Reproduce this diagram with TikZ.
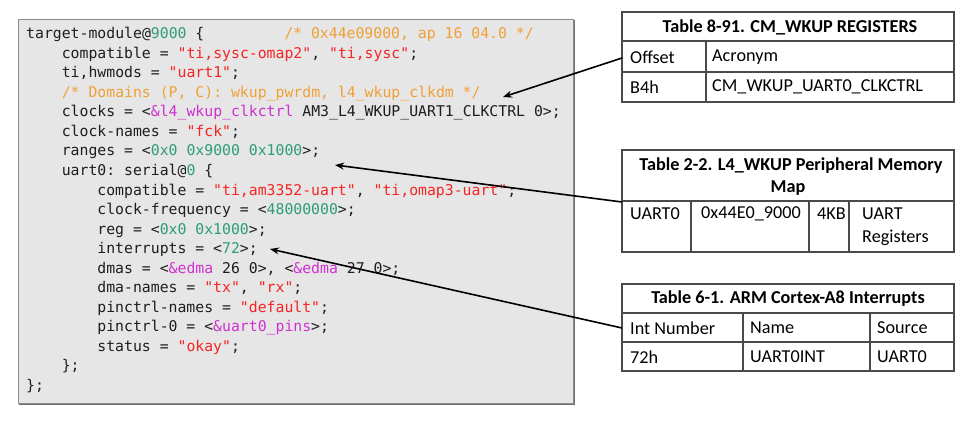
\documentclass[tikz,border=0pt]{standalone}
\usepackage{fontspec}
\setmainfont{Carlito}
\newfontfamily\codefont{DejaVu Sans Mono}[Scale=1]
\usetikzlibrary{arrows.meta,calc}
\definecolor{codebg}{HTML}{E6E6E6}
\definecolor{codeframe}{HTML}{8C8C8C}
\definecolor{codeshadow}{HTML}{6E6E6E}
\definecolor{codetxt}{HTML}{1E1E1E}
\definecolor{strcol}{HTML}{F52424}
\definecolor{numcol}{HTML}{2E9C7A}
\definecolor{cmtcol}{HTML}{F0A035}
\definecolor{refcol}{HTML}{D030D0}
\definecolor{tabline}{HTML}{4A4A4A}
\newcommand\strc[1]{\textcolor{strcol}{#1}}
\newcommand\numc[1]{\textcolor{numcol}{#1}}
\newcommand\cmtc[1]{\textcolor{cmtcol}{#1}}
\newcommand\refc[1]{\textcolor{refcol}{#1}}
\tikzset{
  codeline/.style={anchor=base west, inner sep=0pt, text=codetxt,
    font=\codefont\fontsize{14.8}{17}\selectfont\frenchspacing},
  tabhead/.style={inner sep=0pt, font=\fontsize{18.2}{21}\selectfont\bfseries, text=black, align=center},
  tabcell/.style={anchor=west, inner sep=0pt, font=\fontsize{18.2}{21}\selectfont, text=black, align=left},
  tabframe/.style={draw=tabline, line width=1.1pt, fill=white},
  tabrule/.style={draw=tabline, line width=1.1pt},
  pointer/.style={draw=black, line width=1.6pt, -{Stealth[length=9pt,width=7pt]}}
}
\begin{document}
\begin{tikzpicture}[x=1pt,y=-1pt]
\useasboundingbox (0,0) rectangle (980,441);
% code box
\draw[codeshadow, line width=2.2pt] (574,20) -- (574,404) -- (19,404);
\draw[codeframe, fill=codebg, line width=0.9pt] (18,19) rectangle (573,403);
\def\cw{8.9}
\def\xo{26}
\def\ls{19.5}
\def\yo{39}
\node[codeline] (l1) at (\xo,\yo) {target-module@\numc{9000} \{};
\node[codeline] (l1c) at (\xo+29*\cw,\yo) {\cmtc{/* 0x44e09000, ap 16 04.0 */}};
\node[codeline] (l2) at (\xo+4*\cw,\yo+1*\ls) {compatible = \strc{"ti,sysc-omap2"}, \strc{"ti,sysc"};};
\node[codeline] (l3) at (\xo+4*\cw,\yo+2*\ls) {ti,hwmods = \strc{"uart1"};};
\node[codeline] (l4) at (\xo+4*\cw,\yo+3*\ls) {\cmtc{/* Domains (P, C): wkup\_pwrdm, l4\_wkup\_clkdm */}};
\node[codeline] (l5) at (\xo+4*\cw,\yo+4*\ls) {clocks = <\refc{\&l4\_wkup\_clkctrl} AM3\_L4\_WKUP\_UART1\_CLKCTRL 0>;};
\node[codeline] (l6) at (\xo+4*\cw,\yo+5*\ls) {clock-names = \strc{"fck"};};
\node[codeline] (l7) at (\xo+4*\cw,\yo+6*\ls) {ranges = <\numc{0x0 0x9000 0x1000}>;};
\node[codeline] (l8) at (\xo+4*\cw,\yo+7*\ls) {uart0: serial@\numc{0} \{};
\node[codeline] (l9) at (\xo+8*\cw,\yo+8*\ls) {compatible = \strc{"ti,am3352-uart"}, \strc{"ti,omap3-uart"};};
\node[codeline] (l10) at (\xo+8*\cw,\yo+9*\ls) {clock-frequency = <\numc{48000000}>;};
\node[codeline] (l11) at (\xo+8*\cw,\yo+10*\ls) {reg = <\numc{0x0 0x1000}>;};
\node[codeline] (l12) at (\xo+8*\cw,\yo+11*\ls) {interrupts = <\numc{72}>;};
\node[codeline] (l13) at (\xo+8*\cw,\yo+12*\ls) {dmas = <\refc{\&edma} 26 0>, <\refc{\&edma} 27 0>;};
\node[codeline] (l14) at (\xo+8*\cw,\yo+13*\ls) {dma-names = \strc{"tx"}, \strc{"rx"};};
\node[codeline] (l15) at (\xo+8*\cw,\yo+14*\ls) {pinctrl-names = \strc{"default"};};
\node[codeline] (l16) at (\xo+8*\cw,\yo+15*\ls) {pinctrl-0 = <\refc{\&uart0\_pins}>;};
\node[codeline] (l17) at (\xo+8*\cw,\yo+16*\ls) {status = \strc{"okay"};};
\node[codeline] (l18) at (\xo+4*\cw,\yo+17*\ls) {\};};
\node[codeline] (l19) at (\xo,\yo+18*\ls) {\};};

% Table 1
\draw[tabframe] (622,12) rectangle (954,102);
\draw[tabrule] (622,41) -- (954,41);
\draw[tabrule] (622,72) -- (954,72);
\draw[tabrule] (706,41) -- (706,102);
\node[tabhead] (t1h) at (790,27) {Table 8-91. CM\_WKUP REGISTERS};
\node[tabcell] (t1a) at (630,57) {Offset};
\node[tabcell] (t1b) at (712,57) {Acronym};
\node[tabcell] (t1c) at (630,87) {B4h};
\node[tabcell] (t1d) at (712,87) {CM\_WKUP\_UART0\_CLKCTRL};

% Table 2
\draw[tabframe] (622,150) rectangle (954,252);
\draw[tabrule] (622,201) -- (954,201);
\draw[tabrule] (691,201) -- (691,252);
\draw[tabrule] (809,201) -- (809,252);
\draw[tabrule] (849,201) -- (849,252);
\node[tabhead] (t2h1) at (791,166) {Table 2-2. L4\_WKUP Peripheral Memory};
\node[tabhead] (t2h2) at (788,188) {Map};
\node[tabcell] (t2a) at (630,214) {UART0};
\node[tabcell] (t2b) at (701,214) {0x44E0\_9000};
\node[tabcell] (t2c) at (817,214) {4KB};
\node[tabcell] (t2d) at (862,214) {UART};
\node[tabcell] (t2e) at (862,238) {Registers};

% Table 3
\draw[tabframe] (622,284) rectangle (954,371);
\draw[tabrule] (622,313) -- (954,313);
\draw[tabrule] (622,342) -- (954,342);
\draw[tabrule] (743,313) -- (743,371);
\draw[tabrule] (870,313) -- (870,371);
\node[tabhead] (t3h) at (788,299) {Table 6-1. ARM Cortex-A8 Interrupts};
\node[tabcell] (t3a) at (630,328) {Int Number};
\node[tabcell] (t3b) at (750,328) {Name};
\node[tabcell] (t3c) at (877,328) {Source};
\node[tabcell] (t3d) at (630,357) {72h};
\node[tabcell] (t3e) at (750,357) {UART0INT};
\node[tabcell] (t3f) at (877,357) {UART0};

% pointers
\coordinate (s1) at (622,58);
\coordinate (e1) at (503,97);
\coordinate (s2) at (622,202);
\coordinate (e2) at (335,165);
\coordinate (s3) at (622,328);
\coordinate (e3) at (270,249);
\draw[pointer] (s1) -- (e1);
\draw[pointer] (s2) -- (e2);
\draw[pointer] (s3) -- (e3);
\end{tikzpicture}
\end{document}
